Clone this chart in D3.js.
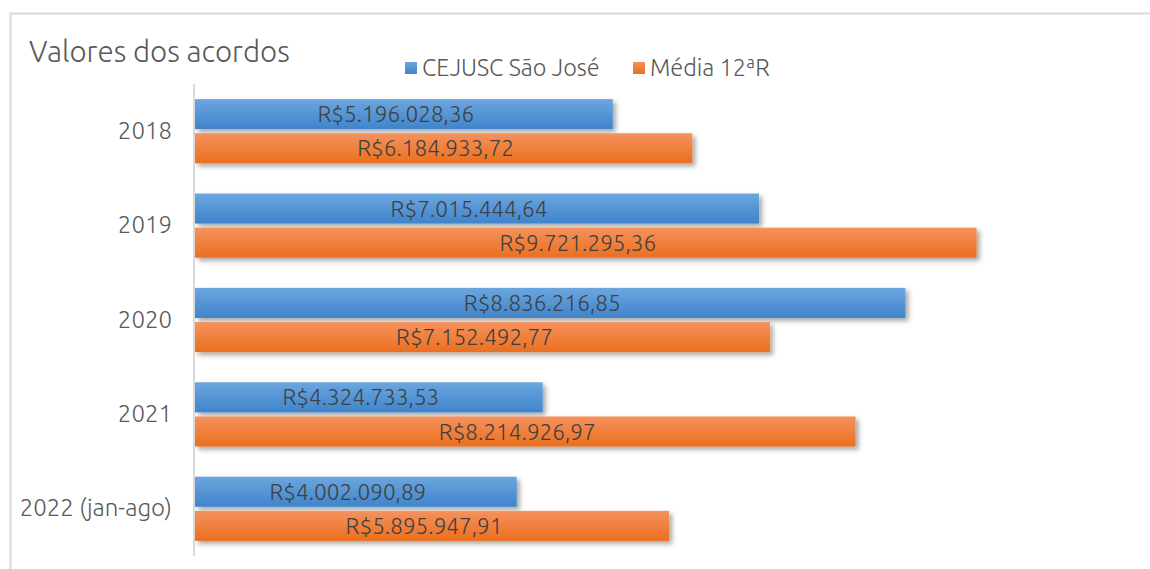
<!DOCTYPE html>
<html>
<head>
<meta charset="utf-8">
<script src="https://cdn.jsdelivr.net/npm/d3@7"></script>
<style>
  body { margin: 0; background: #fff; }
  svg { display: block; font-family: Ubuntu, "Open Sans", "Noto Sans", sans-serif; }
</style>
</head>
<body>
<svg id="chart" width="1150" height="569"></svg>
<script>
const categories = ['2018', '2019', '2020', '2021', '2022 (jan-ago)'];
const series = ['CEJUSC São José', 'Média 12ªR'];
const cejusc = [5196028.36, 7015444.64, 8836216.85, 4324733.53, 4002090.89];
const media = [6184933.72, 9721295.36, 7152492.77, 8214926.97, 5895947.91];

const svg = d3.select('#chart');
const defs = svg.append('defs');

// gradients for bars
const grads = [
  { id: 'gBlue', top: '#6ca6df', bottom: '#3f84cb' },
  { id: 'gOrange', top: '#f5925d', bottom: '#eb6f1e' }
];
grads.forEach(g => {
  const lg = defs.append('linearGradient').attr('id', g.id)
    .attr('x1', 0).attr('y1', 0).attr('x2', 0).attr('y2', 1);
  lg.append('stop').attr('offset', '0%').attr('stop-color', g.top);
  lg.append('stop').attr('offset', '100%').attr('stop-color', g.bottom);
});
const f = defs.append('filter').attr('id', 'shadow')
  .attr('x', '-5%').attr('y', '-30%').attr('width', '115%').attr('height', '180%');
f.append('feDropShadow').attr('dx', 3).attr('dy', 3).attr('stdDeviation', 2.5)
  .attr('flood-color', '#000').attr('flood-opacity', 0.35);

// chart frame
svg.append('rect').attr('x', 10.5).attr('y', 13.5).attr('width', 1160).attr('height', 600)
  .attr('fill', 'none').attr('stroke', '#d9d9d9').attr('stroke-width', 2);

const left = 195;
const x = d3.scaleLinear().domain([0, 10000000]).range([left, left + 804]);
const y = d3.scaleBand().domain(categories).range([84, 556]).paddingInner(0.32).paddingOuter(0.16);
const yInner = d3.scaleBand().domain(series).range([0, y.bandwidth()]).paddingInner(0.12);

const fmt = v => 'R$' + v.toLocaleString('de-DE', { minimumFractionDigits: 2, maximumFractionDigits: 2 });

const rows = categories.map((c, i) => ({ cat: c, vals: [cejusc[i], media[i]] }));

const g = svg.append('g');
const groups = g.selectAll('g.cat').data(rows).join('g')
  .attr('transform', d => `translate(0,${y(d.cat)})`);

groups.selectAll('rect').data(d => d.vals.map((v, j) => ({ s: series[j], v, j })))
  .join('rect')
  .attr('x', x(0))
  .attr('y', d => yInner(d.s))
  .attr('width', d => x(d.v) - x(0))
  .attr('height', yInner.bandwidth())
  .attr('fill', d => d.j === 0 ? 'url(#gBlue)' : 'url(#gOrange)')
  .attr('filter', 'url(#shadow)');

groups.selectAll('text').data(d => d.vals.map((v, j) => ({ s: series[j], v, j })))
  .join('text')
  .attr('x', d => (x(0) + x(d.v)) / 2 - 8)
  .attr('y', d => yInner(d.s) + yInner.bandwidth() / 2)
  .attr('dy', '0.36em')
  .attr('text-anchor', 'middle')
  .attr('font-size', 22.5)
  .attr('font-weight', 300)
  .attr('fill', '#404040')
  .text(d => fmt(d.v));

// category axis
const yAxis = svg.append('g').attr('transform', `translate(${left - 1},0)`)
  .call(d3.axisLeft(y).tickSize(0).tickPadding(22));
yAxis.select('.domain').attr('stroke', '#d9d9d9').attr('stroke-width', 2)
  .attr('d', 'M0,84V556');
yAxis.selectAll('text').attr('font-size', 24).attr('font-weight', 300).attr('fill', '#595959')
  .attr('font-family', 'Ubuntu, "Open Sans", "Noto Sans", sans-serif');

// title
svg.append('text').attr('x', 29).attr('y', 62).attr('font-size', 29.5).attr('font-weight', 300)
  .attr('fill', '#595959').text('Valores dos acordos');

// legend
const legend = [
  { name: series[0], x: 405, fill: 'url(#gBlue)' },
  { name: series[1], x: 633, fill: 'url(#gOrange)' }
];
const lg = svg.append('g').selectAll('g').data(legend).join('g')
  .attr('transform', d => `translate(${d.x},0)`);
lg.append('rect').attr('x', 0).attr('y', 62).attr('width', 12).attr('height', 12).attr('fill', d => d.fill);
lg.append('text').attr('x', 17).attr('y', 76).attr('font-size', 23.5).attr('font-weight', 300)
  .attr('fill', '#595959').text(d => d.name);
</script>
</body>
</html>
